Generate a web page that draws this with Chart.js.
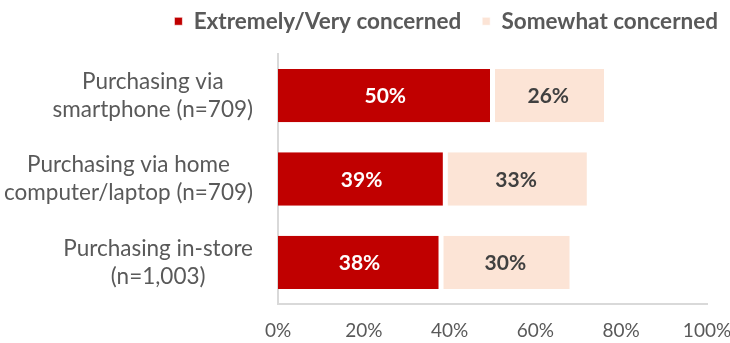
<!DOCTYPE html>
<html lang="en">
<head>
    <meta charset="UTF-8">
    <title>Purchasing concern</title>
    <script src="https://cdn.jsdelivr.net/npm/chart.js"></script>
    <style>
        body { margin: 0; background: #ffffff; }
        #wrap { width: 730px; height: 343px; position: relative; }
    </style>
</head>
<body>
<div id="wrap"><canvas id="chart"></canvas></div>
<script>
    const categories = [
        ['Purchasing via', 'smartphone (n=709)'],
        ['Purchasing via home', 'computer/laptop (n=709)'],
        ['Purchasing in-store', '(n=1,003)']
    ];
    const seriesNames = ['Extremely/Very concerned', 'Somewhat concerned'];
    const veryConcerned = [50, 39, 38];
    const somewhatConcerned = [26, 33, 30];
    const xTicks = [0, 20, 40, 60, 80, 100];

    const FONT = 'Lato, "Open Sans", sans-serif';
    const GREY = '#595959';

    // writes the percentage in the middle of every bar segment
    const segmentLabels = {
        id: 'segmentLabels',
        afterDatasetsDraw(chart) {
            const ctx = chart.ctx;
            ctx.save();
            ctx.font = 'bold 21px ' + FONT;
            ctx.textAlign = 'center';
            ctx.textBaseline = 'middle';
            chart.data.datasets.forEach((ds, i) => {
                const meta = chart.getDatasetMeta(i);
                meta.data.forEach((bar, j) => {
                    const p = bar.getProps(['x', 'y', 'base'], true);
                    ctx.fillStyle = i === 0 ? '#ffffff' : '#404040';
                    ctx.fillText(ds.data[j] + '%', (p.x + p.base) / 2, p.y + 1);
                });
            });
            ctx.restore();
        }
    };

    // category labels: each block right aligned, its lines centred on each other
    const categoryLabels = {
        id: 'categoryLabels',
        afterDraw(chart) {
            const ctx = chart.ctx;
            const yScale = chart.scales.y;
            const rightEdge = yScale.right - 25;
            const lineHeight = 28;
            ctx.save();
            ctx.font = '22.5px ' + FONT;
            ctx.fillStyle = GREY;
            ctx.textAlign = 'center';
            ctx.textBaseline = 'middle';
            categories.forEach((lines, i) => {
                const w = Math.max(...lines.map(l => ctx.measureText(l).width));
                const cx = rightEdge - w / 2;
                const cy = yScale.getPixelForTick(i);
                lines.forEach((line, j) => {
                    ctx.fillText(line, cx, cy + (j - (lines.length - 1) / 2) * lineHeight);
                });
            });
            ctx.restore();
        }
    };

    // legend keeps its item spacing but reserves a fixed band above the plot
    const legendBand = {
        id: 'legendBand',
        beforeUpdate(chart) {
            const legend = chart.legend;
            if (legend && !legend._bandPatched) {
                const fit = legend.fit.bind(legend);
                legend.fit = function () {
                    fit();
                    this.height = 65;
                    this.bottom = this.top + 65;
                };
                legend._bandPatched = true;
            }
        }
    };

    new Chart(document.getElementById('chart'), {
        type: 'bar',
        data: {
            labels: categories.map(l => l.join(' ')),
            datasets: [
                {
                    label: seriesNames[0],
                    data: veryConcerned,
                    backgroundColor: '#C00000',
                    borderColor: '#ffffff',
                    borderWidth: { left: 0, top: 0, bottom: 0, right: 2.5 },
                    borderSkipped: false
                },
                {
                    label: seriesNames[1],
                    data: somewhatConcerned,
                    backgroundColor: '#FCE4D6',
                    borderColor: '#ffffff',
                    borderWidth: { left: 2.5, top: 0, bottom: 0, right: 0 },
                    borderSkipped: false
                }
            ]
        },
        options: {
            indexAxis: 'y',
            responsive: true,
            maintainAspectRatio: false,
            animation: false,
            layout: { padding: { top: -11, right: -9, left: 0, bottom: 0 } },
            datasets: { bar: { categoryPercentage: 0.64, barPercentage: 1 } },
            plugins: {
                legend: {
                    position: 'top',
                    align: 'end',
                    labels: {
                        boxWidth: 8,
                        boxHeight: 8,
                        padding: 21,
                        color: GREY,
                        font: { family: FONT, size: 22.5, weight: 'bold' }
                    }
                },
                tooltip: { enabled: false }
            },
            scales: {
                x: {
                    stacked: true,
                    min: 0,
                    max: 100,
                    afterBuildTicks(axis) {
                        axis.ticks = xTicks.map(v => ({ value: v }));
                    },
                    afterFit(axis) {
                        axis.height = 39;
                        axis.paddingLeft = 0;
                        axis.paddingRight = 23;
                    },
                    grid: { display: false },
                    border: { color: '#D9D9D9', width: 2 },
                    ticks: {
                        padding: 7,
                        color: GREY,
                        font: { family: FONT, size: 19 },
                        callback: v => v + '%'
                    }
                },
                y: {
                    stacked: true,
                    afterFit(axis) { axis.width = 278; },
                    grid: { display: false },
                    border: { color: '#D9D9D9', width: 2 },
                    ticks: { display: false }
                }
            }
        },
        plugins: [legendBand, segmentLabels, categoryLabels]
    });
</script>
</body>
</html>
